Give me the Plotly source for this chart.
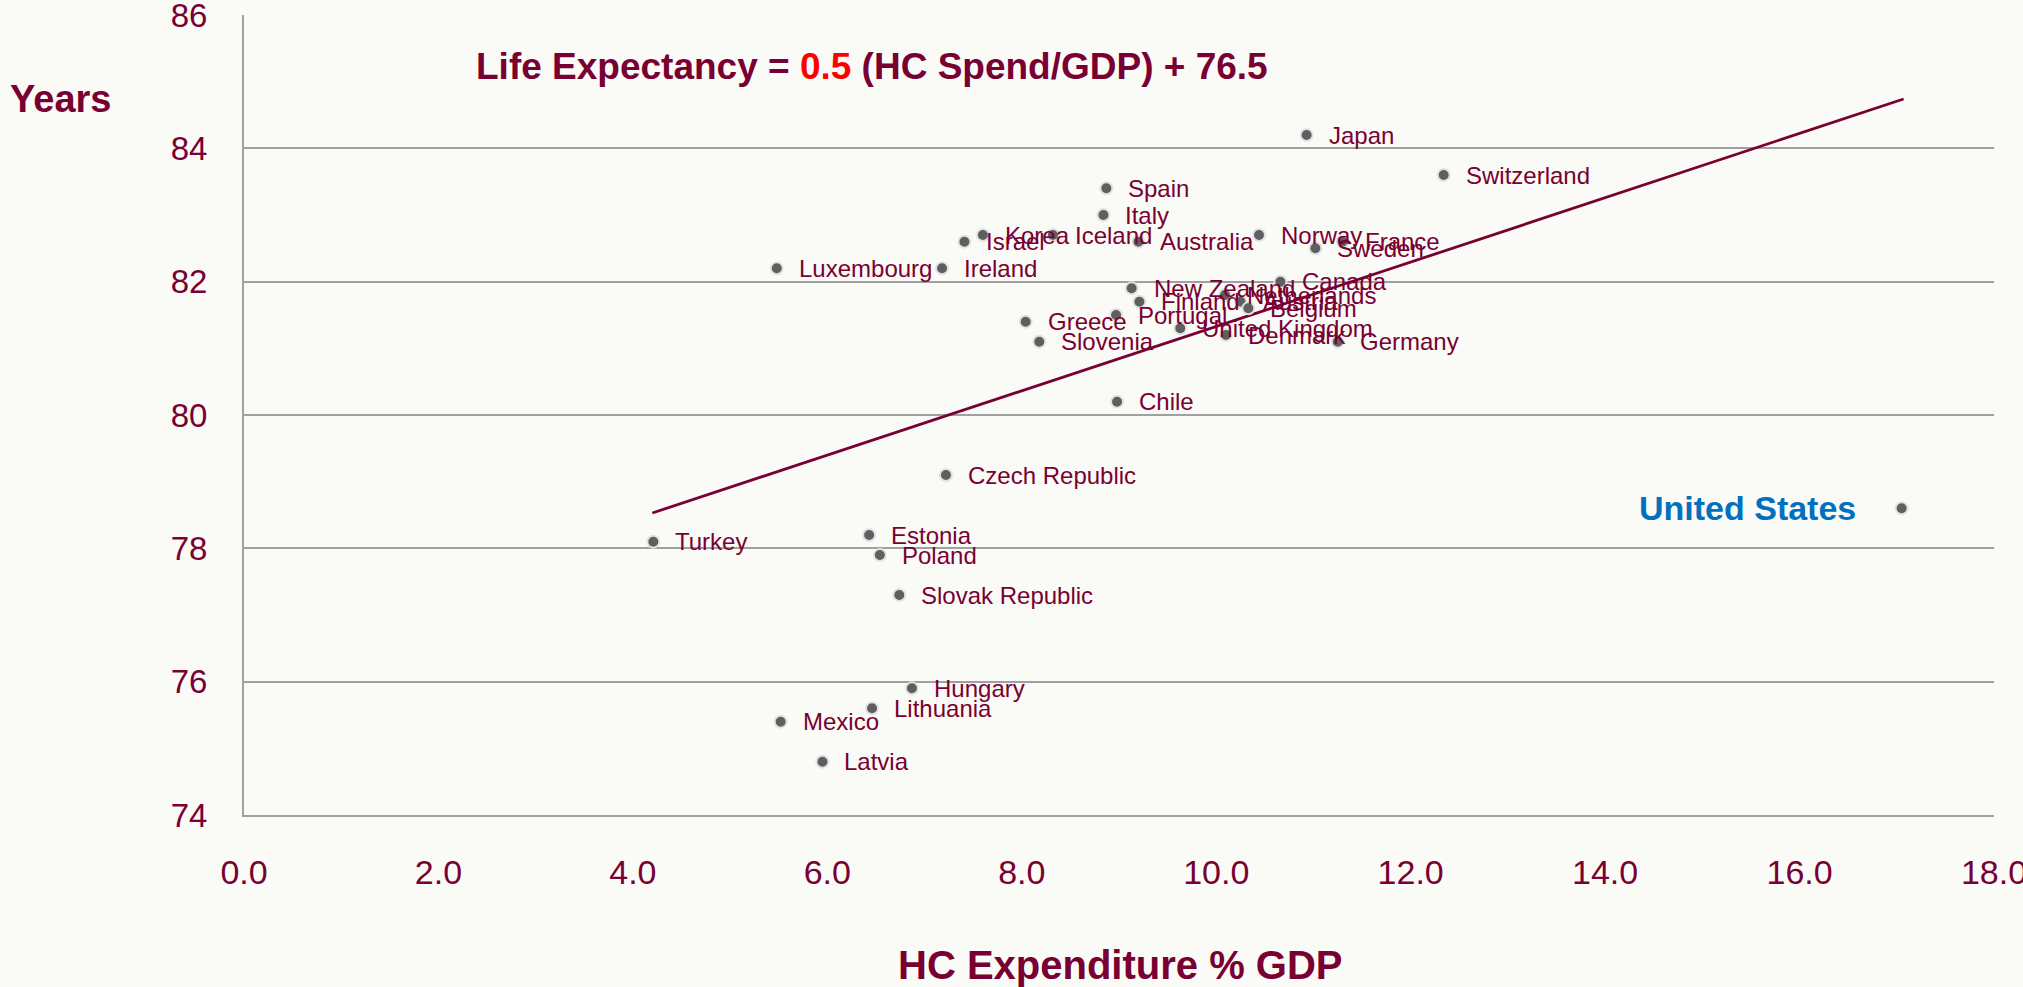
import plotly.graph_objects as go

# OECD countries: health-care spend (% GDP) vs life expectancy (years)
COUNTRIES = [
    "Japan", "Switzerland", "Spain", "Italy", "Korea", "Iceland", "Israel",
    "Australia", "Norway", "France", "Sweden", "Luxembourg", "Ireland",
    "Canada", "New Zealand", "Finland", "Netherlands", "Austria", "Belgium",
    "Portugal", "Greece", "Slovenia", "United Kingdom", "Denmark", "Germany",
    "Chile", "Czech Republic", "Turkey", "Estonia", "Poland",
    "Slovak Republic", "Hungary", "Lithuania", "Mexico", "Latvia",
]
HC_SPEND = [
    10.93, 12.34, 8.87, 8.84, 7.60, 8.32, 7.41,
    9.20, 10.44, 11.30, 11.02, 5.48, 7.18,
    10.66, 9.13, 9.21, 10.09, 10.25, 10.33,
    8.97, 8.04, 8.18, 9.63, 10.10, 11.25,
    8.98, 7.22, 4.21, 6.43, 6.54,
    6.74, 6.87, 6.46, 5.52, 5.95,
]
LIFE_EXP = [
    84.2, 83.6, 83.4, 83.0, 82.7, 82.7, 82.6,
    82.6, 82.7, 82.6, 82.5, 82.2, 82.2,
    82.0, 81.9, 81.7, 81.8, 81.7, 81.6,
    81.5, 81.4, 81.1, 81.3, 81.2, 81.1,
    80.2, 79.1, 78.1, 78.2, 77.9,
    77.3, 75.9, 75.6, 75.4, 74.8,
]

US_NAME = "United States"
US_SPEND = 17.05
US_LIFE = 78.6

# fitted trend line end points
TREND_X = [4.20, 17.07]
TREND_Y = [78.53, 84.74]

X_TICKS = [0, 2, 4, 6, 8, 10, 12, 14, 16, 18]
Y_TICKS = [74, 76, 78, 80, 82, 84, 86]

MAROON = "#780032"
GRID = "#A0A0A0"
BG = "#FAFAF6"
FONT = "Liberation Sans, Arial, sans-serif"

fig = go.Figure()

fig.add_trace(
    go.Scatter(
        x=TREND_X,
        y=TREND_Y,
        mode="lines",
        line=dict(color=MAROON, width=2.8),
        hoverinfo="skip",
        showlegend=False,
    )
)

fig.add_trace(
    go.Scatter(
        x=HC_SPEND + [US_SPEND],
        y=LIFE_EXP + [US_LIFE],
        mode="markers",
        marker=dict(color="#5F5F5F", size=12, line=dict(color="#E2E2E2", width=2)),
        text=COUNTRIES + [US_NAME],
        hovertemplate="%{text}<br>%{x:.1f}% GDP<br>%{y:.1f} years<extra></extra>",
        showlegend=False,
    )
)

for name, x, y in zip(COUNTRIES, HC_SPEND, LIFE_EXP):
    fig.add_annotation(
        x=x, y=y, text=name, showarrow=False,
        xanchor="left", yanchor="middle", xshift=20,
        font=dict(size=24, color=MAROON, family=FONT),
    )

fig.add_annotation(
    x=US_SPEND, y=US_LIFE, text=f"<b>{US_NAME}</b>", showarrow=False,
    xanchor="right", yanchor="middle", xshift=-44,
    font=dict(size=34, color="#0070C0", family=FONT),
)

fig.add_annotation(
    xref="paper", yref="paper", x=0.3586, y=0.9356,
    text="<b>Life Expectancy = <span style='color:#FF0000'>0.5</span> (HC Spend/GDP) + 76.5</b>",
    showarrow=False, xanchor="center", yanchor="middle",
    font=dict(size=37, color=MAROON, family=FONT),
)

fig.add_annotation(
    xref="paper", yref="paper", x=-0.105, y=0.895,
    text="<b>Years</b>", showarrow=False, xanchor="center", yanchor="middle",
    font=dict(size=38, color=MAROON, family=FONT),
)

fig.add_annotation(
    xref="paper", yref="paper", x=0.501, y=-0.188,
    text="<b>HC Expenditure % GDP</b>", showarrow=False,
    xanchor="center", yanchor="middle",
    font=dict(size=40, color=MAROON, family=FONT),
)

fig.update_layout(
    width=2023,
    height=987,
    paper_bgcolor=BG,
    plot_bgcolor=BG,
    font=dict(family=FONT, color=MAROON, size=33),
    margin=dict(l=244, r=29, t=15, b=172, autoexpand=False),
    xaxis=dict(
        range=[0, 18],
        tickvals=X_TICKS,
        tickformat=".1f",
        showgrid=False,
        zeroline=False,
        showline=True,
        linecolor=GRID,
        linewidth=2,
        ticks="",
        automargin=False,
        ticklabelstandoff=26,
        ticklabeloverflow="allow",
        tickfont=dict(size=34, color=MAROON),
    ),
    yaxis=dict(
        range=[74, 86],
        tickvals=Y_TICKS,
        showgrid=True,
        gridcolor=GRID,
        gridwidth=1.5,
        zeroline=False,
        showline=True,
        linecolor=GRID,
        linewidth=2,
        ticks="",
        automargin=False,
        ticklabelstandoff=28,
        ticklabeloverflow="allow",
        tickfont=dict(size=33, color=MAROON),
    ),
)

fig.write_html(
    "out.html",
    config={"displayModeBar": False},
    post_script="document.body.style.margin='0';",
)
